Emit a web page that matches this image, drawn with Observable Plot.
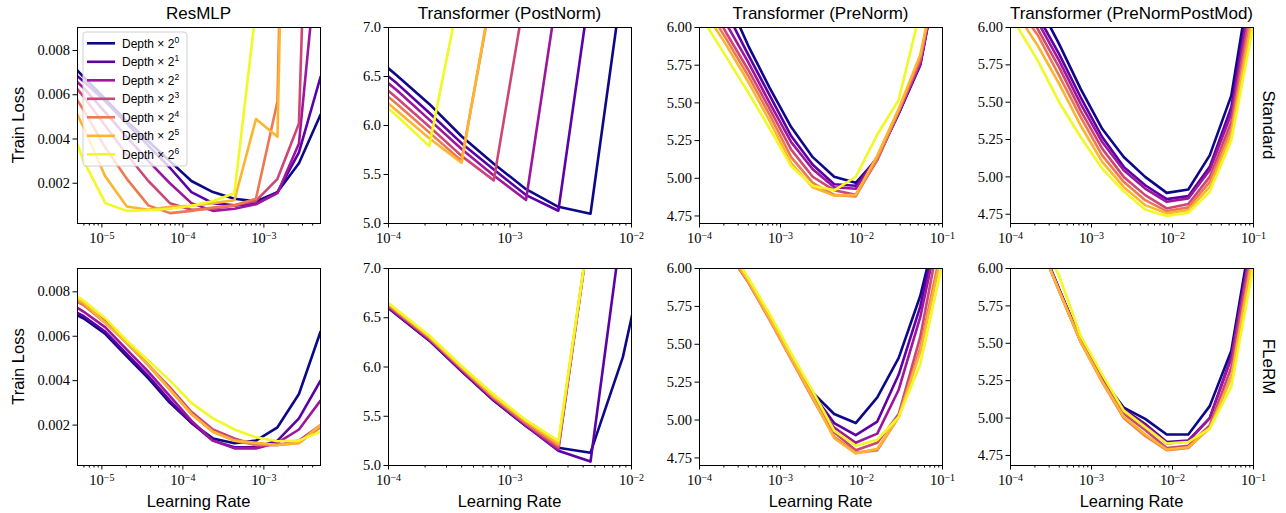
<!DOCTYPE html>
<html><head><meta charset="utf-8">
<script src="https://cdn.jsdelivr.net/npm/d3@7"></script>
<script src="https://cdn.jsdelivr.net/npm/@observablehq/plot@0.6"></script>
<style>
body{margin:0;background:#fff;}
#fig{position:relative;width:1286px;height:513px;overflow:hidden;}
#fig svg.p{position:absolute;}
#fig svg.p text{font-family:"Liberation Serif","DejaVu Serif",serif !important;font-size:14.5px !important;}
#fig svg.p text tspan.sup{font-size:10px !important;}
#overlay{position:absolute;left:0;top:0;pointer-events:none;}
</style></head><body><div id="fig"></div><script>
// ---------- data ----------
const depthLabels = ["2^0","2^1","2^2","2^3","2^4","2^5","2^6"];
const depthColors = ["#0d0887","#5c01a6","#9c179e","#cc4778","#ed7953","#fdb42f","#f0f921"];
const columnTitles = ["ResMLP","Transformer (PostNorm)","Transformer (PreNorm)","Transformer (PreNormPostMod)"];
const rowTitles = ["Standard","FLeRM"];

const lrResMLP = [3.24e-6, 5.98e-6, 1.104e-5, 2.03e-5, 3.75e-5, 6.92e-5, 1.274e-4, 2.35e-4, 4.33e-4, 7.98e-4, 1.472e-3, 2.71e-3, 5.0e-3];
const lrTransformer = [6.35e-5, 1.172e-4, 2.163e-4, 3.99e-4, 7.35e-4, 1.355e-3, 2.50e-3, 4.60e-3, 8.49e-3, 1.567e-2, 2.88e-2, 5.32e-2, 9.82e-2, 0.1807];

const resmlpStandard = [
  [0.0078, 0.0068, 0.0058, 0.0048, 0.0039, 0.0030, 0.0021, 0.0016, 0.0013, 0.00118, 0.0016, 0.0029, 0.0051],
  [0.0074, 0.0066, 0.0057, 0.0047, 0.0037, 0.0027, 0.0016, 0.0011, 0.0010, 0.00108, 0.0016, 0.0034, 0.0068],
  [0.0072, 0.0063, 0.0052, 0.0041, 0.0030, 0.0020, 0.0011, 0.00075, 0.00085, 0.00105, 0.00155, 0.0038, 0.0138],
  [0.0071, 0.0059, 0.0046, 0.0033, 0.0021, 0.0011, 0.0008, 0.00085, 0.0010, 0.0012, 0.0022, 0.0047, 0.036],
  [0.0068, 0.0053, 0.0036, 0.0022, 0.0010, 0.00065, 0.00075, 0.0009, 0.0010, 0.0013, 0.0057, 0.05, 0.05],
  [0.0065, 0.0045, 0.0023, 0.00095, 0.0008, 0.00093, 0.00098, 0.0011, 0.00123, 0.0049, 0.0041, 0.05, 0.05],
  [0.0055, 0.0030, 0.0011, 0.00075, 0.00078, 0.00085, 0.00098, 0.0012, 0.00155, 0.0099, 0.03, 0.03, 0.03]
];
const resmlpFlerm = [
  [0.0073, 0.0068, 0.0061, 0.0051, 0.0041, 0.0030, 0.0021, 0.0014, 0.00118, 0.0013, 0.0019, 0.0034, 0.0062],
  [0.0074, 0.0069, 0.0062, 0.0052, 0.0042, 0.0031, 0.0021, 0.0013, 0.0010, 0.0010, 0.0013, 0.0023, 0.0040],
  [0.0077, 0.0071, 0.0064, 0.0054, 0.0044, 0.0033, 0.0022, 0.0013, 0.00095, 0.00095, 0.0012, 0.0018, 0.0031],
  [0.0079, 0.0074, 0.0067, 0.0057, 0.0047, 0.0037, 0.0026, 0.0018, 0.0014, 0.0011, 0.0011, 0.0013, 0.0020],
  [0.0079, 0.0074, 0.0066, 0.0057, 0.0047, 0.0036, 0.0025, 0.0017, 0.0013, 0.0011, 0.0011, 0.0012, 0.0019],
  [0.0080, 0.0075, 0.0066, 0.0057, 0.0047, 0.0036, 0.0025, 0.0017, 0.0013, 0.0012, 0.0011, 0.0012, 0.0020],
  [0.0082, 0.0076, 0.0068, 0.0058, 0.0049, 0.0040, 0.0030, 0.0023, 0.0018, 0.00145, 0.00127, 0.0013, 0.0017]
];
const postNormStandard = [
  [6.79, 6.51, 6.22, 5.89, 5.61, 5.35, 5.17, 5.10, 7.49],
  [6.70, 6.43, 6.13, 5.82, 5.55, 5.29, 5.13, 7.43],
  [6.63, 6.36, 6.06, 5.76, 5.49, 5.24, 7.43],
  [6.56, 6.28, 5.99, 5.69, 5.44, 7.40],
  [6.49, 6.22, 5.93, 5.64, 7.45],
  [6.43, 6.15, 5.87, 5.62, 7.49],
  [6.37, 6.10, 5.79, 7.44]
];
const postNormFlerm = [
  [6.80, 6.53, 6.27, 5.96, 5.66, 5.40, 5.18, 5.13, 6.10, 7.60],
  [6.80, 6.53, 6.27, 5.96, 5.66, 5.40, 5.15, 5.04, 7.51],
  [6.81, 6.54, 6.28, 5.97, 5.67, 5.41, 5.16, 7.48],
  [6.82, 6.55, 6.29, 5.98, 5.68, 5.42, 5.18, 7.48],
  [6.83, 6.56, 6.30, 5.99, 5.69, 5.43, 5.20, 7.48],
  [6.84, 6.57, 6.31, 6.00, 5.70, 5.45, 5.22, 7.48],
  [6.85, 6.58, 6.32, 6.01, 5.72, 5.46, 5.25, 7.48]
];
const preNormStandard = [
  [null, 6.50, 6.20, 5.88, 5.60, 5.34, 5.14, 5.01, 4.97, 5.13, 5.43, 5.76, 6.5],
  [null, 6.40, 6.10, 5.82, 5.55, 5.28, 5.09, 4.96, 4.95, 5.14, 5.43, 5.75, 6.5],
  [null, 6.33, 6.02, 5.77, 5.50, 5.24, 5.06, 4.94, 4.93, 5.14, 5.44, 5.76, 6.5],
  [null, 6.22, 5.96, 5.72, 5.46, 5.19, 5.01, 4.92, 4.89, 5.12, 5.44, 5.78, 6.5],
  [null, 6.15, 5.92, 5.68, 5.42, 5.14, 4.97, 4.89, 4.88, 5.13, 5.45, 5.80, 6.5],
  [null, 6.10, 5.88, 5.64, 5.38, 5.10, 4.94, 4.885, 4.89, 5.15, 5.46, 5.82, 6.5],
  [null, 6.03, 5.80, 5.57, 5.33, 5.08, 4.95, 4.92, 5.01, 5.29, 5.52, 6.11]
];
const preNormFlerm = [
  [null, 6.45, 6.13, 5.92, 5.68, 5.43, 5.18, 5.04, 4.98, 5.15, 5.41, 5.82, 6.40],
  [null, 6.45, 6.13, 5.92, 5.68, 5.42, 5.17, 4.98, 4.90, 4.99, 5.30, 5.75, 6.40],
  [null, 6.45, 6.13, 5.92, 5.67, 5.42, 5.16, 4.95, 4.85, 4.91, 5.20, 5.68, 6.35],
  [null, 6.44, 6.12, 5.91, 5.67, 5.41, 5.15, 4.92, 4.80, 4.85, 5.04, 5.55, 6.30],
  [null, 6.44, 6.12, 5.91, 5.66, 5.40, 5.14, 4.89, 4.785, 4.80, 5.02, 5.48, 6.15],
  [null, 6.45, 6.13, 5.92, 5.67, 5.41, 5.15, 4.88, 4.78, 4.81, 5.02, 5.45, 6.10],
  [null, 6.47, 6.16, 5.94, 5.70, 5.44, 5.19, 4.93, 4.83, 4.87, 5.02, 5.37, 6.02]
];
const postModStandard = [
  [null, 6.45, 6.165, 5.889, 5.589, 5.322, 5.133, 5.000, 4.893, 4.916, 5.144, 5.544, 6.43],
  [null, 6.35, 6.08, 5.822, 5.533, 5.267, 5.067, 4.944, 4.851, 4.871, 5.067, 5.467, 6.35],
  [null, 6.30, 6.04, 5.778, 5.489, 5.233, 5.044, 4.922, 4.833, 4.856, 5.044, 5.422, 6.30],
  [null, 6.25, 5.99, 5.733, 5.444, 5.189, 5.000, 4.878, 4.789, 4.818, 5.000, 5.367, 6.22],
  [null, 6.15, 5.95, 5.678, 5.400, 5.144, 4.967, 4.844, 4.771, 4.796, 4.967, 5.322, 6.15],
  [null, 6.10, 5.88, 5.622, 5.344, 5.100, 4.933, 4.811, 4.756, 4.778, 4.933, 5.289, 6.08],
  [null, 6.02, 5.78, 5.500, 5.267, 5.056, 4.904, 4.782, 4.738, 4.760, 4.900, 5.244, 6.00]
];
const postModFlerm = [
  [null, 6.60, 6.21, 5.86, 5.52, 5.26, 5.07, 4.995, 4.89, 4.89, 5.08, 5.45, 6.30],
  [null, 6.60, 6.21, 5.86, 5.52, 5.26, 5.06, 4.96, 4.84, 4.85, 5.00, 5.41, 6.25],
  [null, 6.60, 6.21, 5.86, 5.52, 5.255, 5.05, 4.95, 4.83, 4.845, 5.00, 5.40, 6.22],
  [null, 6.59, 6.20, 5.85, 5.51, 5.25, 5.03, 4.92, 4.80, 4.815, 4.95, 5.34, 6.18],
  [null, 6.59, 6.20, 5.85, 5.51, 5.24, 5.00, 4.88, 4.785, 4.80, 4.94, 5.28, 6.12],
  [null, 6.59, 6.20, 5.85, 5.51, 5.245, 5.01, 4.89, 4.79, 4.805, 4.93, 5.27, 6.08],
  [null, 6.62, 6.25, 5.95, 5.55, 5.29, 5.05, 4.94, 4.83, 4.84, 4.93, 5.21, 6.00]
];

// tick labels
const xTicksResMLP = [1e-5, 1e-4, 1e-3];
const xTicksPost = [1e-4, 1e-3, 1e-2];
const xTicksPre = [1e-4, 1e-3, 1e-2, 1e-1];
const yTicksResMLP = [0.002, 0.004, 0.006, 0.008];
const yTicksPost = [5.0, 5.5, 6.0, 6.5, 7.0];
const yTicksPre = [4.75, 5.00, 5.25, 5.50, 5.75, 6.00];

// ---------- layout ----------
const colL = [77, 388, 699, 1010], colW = 243;
const rowT = [27, 268], rowH = [196, 197];
const mL = 64, mR = 20, mT = 8, mB = 36;
const fig = document.getElementById("fig");
const SVGNS = "http://www.w3.org/2000/svg";

function minorTicks(lo, hi) {
  const out = [];
  for (let e = Math.floor(Math.log10(lo)); e <= Math.ceil(Math.log10(hi)); e++)
    for (let k = 2; k <= 9; k++) { const v = k * Math.pow(10, e); if (v > lo * 1.0001 && v < hi * 0.9999) out.push(v); }
  return out;
}

function panel(series, lr, xDomain, xTicks, yDomain, yTicks, yFmt, col, row) {
  const rows = [];
  series.forEach((vals, s) => vals.forEach((v, i) => { if (v != null) rows.push({lr: lr[i], loss: v, depth: depthLabels[s]}); }));
  const svg = Plot.plot({
    width: colW + mL + mR, height: rowH[row] + mT + mB,
    marginLeft: mL, marginRight: mR, marginTop: mT, marginBottom: mB,
    style: {color: "#000", background: "transparent", overflow: "visible"},
    x: {type: "log", domain: xDomain},
    y: {domain: yDomain},
    color: {domain: depthLabels, range: depthColors},
    marks: [
      Plot.line(rows, {x: "lr", y: "loss", z: "depth", stroke: "depth", strokeWidth: 2.6, clip: true, strokeLinejoin: "round"}),
      Plot.frame({stroke: "#000", strokeWidth: 1}),
      Plot.axisX({ticks: xTicks, tickFormat: d => "10^" + Math.round(Math.log10(d)), tickSize: 4.5, tickPadding: 5, label: null}),
      Plot.axisX({ticks: minorTicks(xDomain[0], xDomain[1]), tickFormat: () => "", tickSize: 2.5, label: null}),
      Plot.axisY({ticks: yTicks, tickFormat: yFmt, tickSize: 4.5, tickPadding: 3, label: null})
    ]
  });
  svg.classList.add("p");
  svg.style.left = (colL[col] - mL) + "px";
  svg.style.top = (rowT[row] - mT) + "px";
  svg.querySelectorAll('[aria-label="x-axis tick label"] text').forEach(t => {
    const s = t.textContent;
    if (s.indexOf("^") < 0) return;
    const [b, e] = s.split("^");
    t.textContent = b;
    const ts = document.createElementNS(SVGNS, "tspan");
    ts.setAttribute("class", "sup");
    ts.setAttribute("dy", "-0.45em");
    ts.textContent = e.replace("-", "\u2212");
    t.appendChild(ts);
  });
  fig.appendChild(svg);
}

const f3 = d3.format(".3f"), f1 = d3.format(".1f"), f2 = d3.format(".2f");
const dMLP = [5e-6, 5e-3], dPost = [1e-4, 1e-2], dPre = [1e-4, 1e-1];
panel(resmlpStandard, lrResMLP, dMLP, xTicksResMLP, [0.00018, 0.00904], yTicksResMLP, f3, 0, 0);
panel(resmlpFlerm, lrResMLP, dMLP, xTicksResMLP, [0.00018, 0.00905], yTicksResMLP, f3, 0, 1);
panel(postNormStandard, lrTransformer, dPost, xTicksPost, [5.0, 7.0], yTicksPost, f1, 1, 0);
panel(postNormFlerm, lrTransformer, dPost, xTicksPost, [5.0, 7.0], yTicksPost, f1, 1, 1);
panel(preNormStandard, lrTransformer, dPre, xTicksPre, [4.70, 6.0], yTicksPre, f2, 2, 0);
panel(preNormFlerm, lrTransformer, dPre, xTicksPre, [4.70, 6.0], yTicksPre, f2, 2, 1);
panel(postModStandard, lrTransformer, dPre, xTicksPre, [4.688, 6.0], yTicksPre, f2, 3, 0);
panel(postModFlerm, lrTransformer, dPre, xTicksPre, [4.683, 6.0], yTicksPre, f2, 3, 1);

// ---------- overlay text & legend ----------
const ov = d3.select(fig).append("svg").attr("id", "overlay").attr("width", 1286).attr("height", 513)
  .style("font-family", "'Liberation Sans', Arial, sans-serif");
colL.forEach((L, c) => {
  const cx = L + colW / 2;
  ov.append("text").attr("x", cx).attr("y", 18.5).attr("text-anchor", "middle").attr("font-size", 17).text(columnTitles[c]);
  ov.append("text").attr("x", cx).attr("y", 507).attr("text-anchor", "middle").attr("font-size", 16.5).text("Learning Rate");
});
rowT.forEach((T, r) => {
  const cy = T + rowH[r] / 2;
  ov.append("text").attr("transform", `translate(24,${cy}) rotate(-90)`).attr("text-anchor", "middle").attr("font-size", 16.5).text("Train Loss");
  ov.append("text").attr("transform", `translate(1263,${cy}) rotate(90)`).attr("text-anchor", "middle").attr("font-size", 17).text(rowTitles[r]);
});
const lg = ov.append("g");
lg.append("rect").attr("x", 83).attr("y", 32).attr("width", 104).attr("height", 134).attr("rx", 3)
  .attr("fill", "#fff").attr("fill-opacity", 0.8).attr("stroke", "#d0d0d0").attr("stroke-width", 1);
depthLabels.forEach((d, i) => {
  const y = 43.3 + i * 18.5;
  lg.append("line").attr("x1", 87).attr("x2", 115).attr("y1", y).attr("y2", y).attr("stroke", depthColors[i]).attr("stroke-width", 2.6);
  const t = lg.append("text").attr("x", 122).attr("y", y + 4.2).attr("font-size", 12).text("Depth \u00d7 " + d.split("^")[0]);
  t.append("tspan").attr("dy", -5).attr("font-size", 8.5).text(d.split("^")[1]);
});
</script></body></html>
